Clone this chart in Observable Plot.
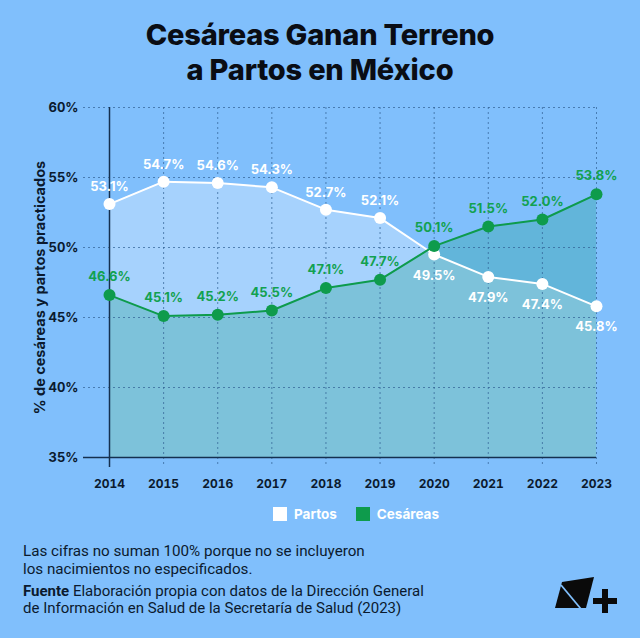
<!DOCTYPE html>
<html>
<head>
<meta charset="utf-8">
<script src="https://cdn.jsdelivr.net/npm/d3@7"></script>
<script src="https://cdn.jsdelivr.net/npm/@observablehq/plot@0.6"></script>
<style>
  html, body { margin: 0; padding: 0; }
  body { width: 640px; height: 638px; background: #80bffc; position: relative; overflow: hidden; font-family: Inter, "Noto Sans", sans-serif; color: #0b1a2e; }
  #title { position: absolute; top: 17px; left: 0; width: 640px; text-align: center; font-weight: 800; font-size: 29px; line-height: 35px; letter-spacing: -0.2px; color: #0a0d14; }
  #chart { position: absolute; top: 92px; left: 0; }
  #legend { position: absolute; top: 506px; left: 273px; display: flex; align-items: center; font-weight: 700; font-size: 13.5px; color: #fff; }
  #legend .sw { width: 14px; height: 14px; display: inline-block; margin-right: 7px; }
  #legend .item { display: flex; align-items: center; margin-right: 19px; }
  #note { position: absolute; top: 542px; left: 23px; font-family: Roboto, sans-serif; font-size: 15.2px; line-height: 18px; color: #0b1a2e; }
  #source { position: absolute; top: 583px; left: 23px; font-family: Roboto, sans-serif; font-size: 15px; line-height: 17px; color: #0b1a2e; }
  #logo { position: absolute; left: 550px; top: 574px; }
</style>
</head>
<body>
<div id="title">Cesáreas Ganan Terreno<br>a Partos en México</div>
<div id="chart"></div>
<div id="legend">
  <span class="item"><span class="sw" style="background:#ffffff"></span>Partos</span>
  <span class="item"><span class="sw" style="background:#0e9b4c"></span>Cesáreas</span>
</div>
<div id="note">Las cifras no suman 100% porque no se incluyeron<br>los nacimientos no especificados.</div>
<div id="source"><b>Fuente</b> Elaboración propia con datos de la Dirección General<br>de Información en Salud de la Secretaría de Salud (2023)</div>
<svg id="logo" width="70" height="42" viewBox="0 0 70 42">
  <polygon points="12,8 44,3 36,34 5,34" fill="#0a0a0a"/>
  <line x1="11" y1="11" x2="31" y2="35" stroke="#80bffc" stroke-width="1.8"/>
  <rect x="52" y="15" width="6" height="24" fill="#0a0a0a"/>
  <rect x="43" y="24" width="24" height="6" fill="#0a0a0a"/>
</svg>
<script>
const years = [2014, 2015, 2016, 2017, 2018, 2019, 2020, 2021, 2022, 2023];
const partos = [53.1, 54.7, 54.6, 54.3, 52.7, 52.1, 49.5, 47.9, 47.4, 45.8];
const cesareas = [46.6, 45.1, 45.2, 45.5, 47.1, 47.7, 50.1, 51.5, 52.0, 53.8];
const yTicks = [35, 40, 45, 50, 55, 60];
const yTitle = "% de cesáreas y partos practicados";

const data = years.map((year, i) => ({year, partos: partos[i], cesareas: cesareas[i]}));
const base = yTicks[0];
const green = "#0e9b4c";
const dark = "#0b1a2e";
const fmt = v => v.toFixed(1) + "%";

const chart = Plot.plot({
  width: 640,
  height: 410,
  marginLeft: 83,
  marginRight: 44,
  marginTop: 15,
  marginBottom: 35,
  style: {background: "transparent", fontFamily: "Inter, 'Noto Sans', sans-serif", color: dark},
  x: {domain: [years[0], years[years.length - 1]], range: [109, 596]},
  y: {domain: [base, yTicks[yTicks.length - 1]], range: [365, 15]},
  marks: [
    Plot.areaY(data, {x: "year", y1: base, y2: "partos", fill: "#ffffff", fillOpacity: 0.3}),
    Plot.areaY(data, {x: "year", y1: base, y2: "cesareas", fill: "#169b80", fillOpacity: 0.28}),
    Plot.gridY(yTicks.filter(t => t !== base), {stroke: "#2f5f93", strokeOpacity: 0.7, strokeDasharray: "2,3", strokeWidth: 1}),
    Plot.gridX(years.slice(1), {stroke: "#2f5f93", strokeOpacity: 0.7, strokeDasharray: "2,3", strokeWidth: 1}),
    Plot.ruleY([base], {stroke: "#15304f", strokeWidth: 1.5}),
    Plot.ruleX([years[0]], {stroke: "#15304f", strokeWidth: 1.5}),
    Plot.axisY(yTicks, {tickSize: 0, tickPadding: 5, tickFormat: d => d + "%", fontSize: 13, fontWeight: 700, fill: dark,
      label: yTitle, labelAnchor: "center", labelArrow: "none", labelOffset: 49}),
    Plot.axisX(years, {tickSize: 0, tickPadding: 12, tickFormat: d => String(d), fontSize: 12, fontWeight: 700, fill: dark, label: null}),
    Plot.lineY(data, {x: "year", y: "partos", stroke: "#ffffff", strokeWidth: 2}),
    Plot.lineY(data, {x: "year", y: "cesareas", stroke: green, strokeWidth: 2}),
    Plot.dot(data, {x: "year", y: "partos", r: 6, fill: "#ffffff"}),
    Plot.dot(data, {x: "year", y: "cesareas", r: 6, fill: green}),
    Plot.text(data, {filter: d => d.partos > d.cesareas, x: "year", y: "partos", text: d => fmt(d.partos), dy: -17, fill: "#ffffff", fontSize: 13, fontWeight: 700}),
    Plot.text(data, {filter: d => d.partos <= d.cesareas, x: "year", y: "partos", text: d => fmt(d.partos), dy: 21, fill: "#ffffff", fontSize: 13, fontWeight: 700}),
    Plot.text(data, {x: "year", y: "cesareas", text: d => fmt(d.cesareas), dy: -18, fill: "#12a150", fontSize: 13, fontWeight: 700})
  ]
});
chart.querySelectorAll("[aria-label='y-axis label'] text").forEach(t => { t.setAttribute("font-weight", "700"); t.setAttribute("font-size", "14.5"); });
document.getElementById("chart").appendChild(chart);
</script>
</body>
</html>
